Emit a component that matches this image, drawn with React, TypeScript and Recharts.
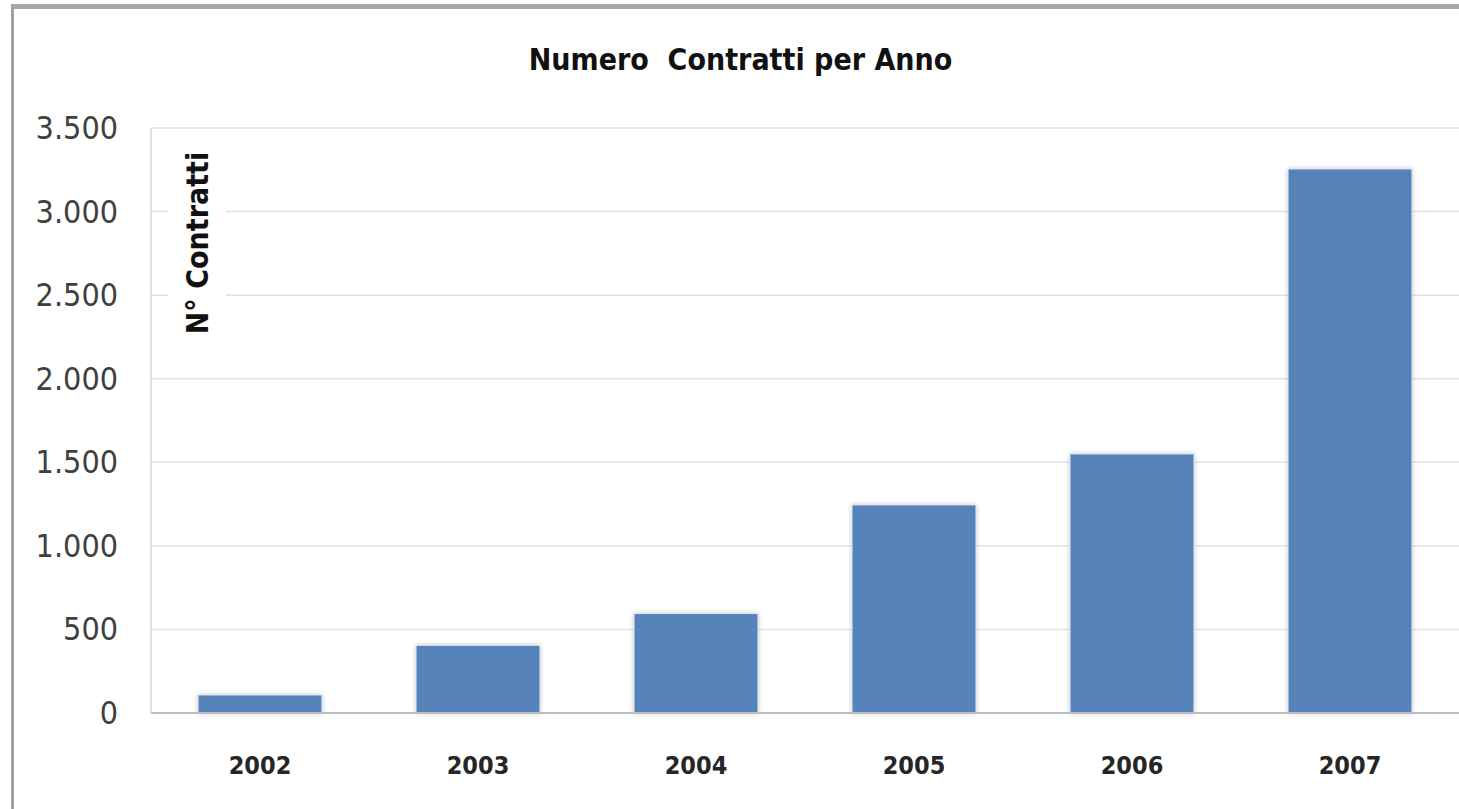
import React from 'react'
import { BarChart, Bar, XAxis, YAxis, CartesianGrid } from 'recharts'

const YEARS = ['2002', '2003', '2004', '2005', '2006', '2007']
const CONTRACTS = [108, 405, 595, 1245, 1550, 3255]
const Y_TICKS = [0, 500, 1000, 1500, 2000, 2500, 3000, 3500]
const TITLE = 'Numero  Contratti per Anno'
const Y_LABEL = 'N°  Contratti'

const BAR_BLUE = '#5683B9'
const GRID_GRAY = '#e2e2e2'
const COND = '"DejaVu Sans Condensed", "DejaVu Sans", sans-serif'

const data = YEARS.map((year, i) => ({ year, value: CONTRACTS[i] }))

const fmt = (v: number) => String(v).replace(/\B(?=(\d{3})+(?!\d))/g, '.')

function YTick(props: any) {
    const { y, payload } = props
    return (
        <text x={118} y={y} textAnchor="end" dominantBaseline="central"
            fontFamily={COND} fontSize={32} fill="#404040">
            {fmt(payload.value)}
        </text>
    )
}

function XTick(props: any) {
    const { x, y, payload } = props
    return (
        <text x={x} y={y + 44} textAnchor="middle" dominantBaseline="central"
            fontFamily={COND} fontWeight="bold" fontSize={25} fill="#262626">
            {payload.value}
        </text>
    )
}

function YLabel(props: any) {
    const { viewBox } = props
    const cx = viewBox.x + viewBox.width + 46
    const cy = viewBox.y + 115
    return (
        <g>
            <rect x={cx - 29} y={cy - 102} width={58} height={204} fill="#ffffff" />
            <text x={cx} y={cy} transform={`rotate(-90 ${cx} ${cy})`} textAnchor="middle"
                dominantBaseline="central" fontFamily={COND} fontWeight="bold" fontSize={30} fill="#111">
                {Y_LABEL}
            </text>
        </g>
    )
}

export default function App() {
    return (
        <div style={{ position: 'absolute', left: 0, top: 0, width: 1459, height: 809, background: '#fff', overflow: 'hidden' }}>
            <style>{`.recharts-bar-rectangle path { filter: drop-shadow(0 0 2px rgba(0,0,0,0.22)); }`}</style>
            <div style={{
                position: 'absolute', left: 11, top: 4, width: 1448, height: 805,
                borderTop: '5px solid #a8a8a8', borderLeft: '3px solid #a0a0a0', boxSizing: 'border-box'
            }} />
            <div style={{
                position: 'absolute', left: 22, width: 1437, top: 42, textAlign: 'center',
                fontFamily: COND, fontWeight: 'bold', fontSize: 30, color: '#111', whiteSpace: 'pre'
            }}>
                {TITLE}
            </div>
            <div style={{ position: 'absolute', left: 0, top: 0 }}>
                <BarChart width={1459} height={809} data={data} barSize={124}
                    margin={{ top: 128, right: 0, bottom: 0, left: 0 }}>
                    <CartesianGrid vertical={false} stroke={GRID_GRAY} strokeWidth={1.5} />
                    <XAxis dataKey="year" height={96} tickLine={false}
                        axisLine={{ stroke: '#bdbdbd', strokeWidth: 2 }} tick={<XTick />} />
                    <YAxis width={151} domain={[0, 3500]} ticks={Y_TICKS} tickLine={false}
                        axisLine={{ stroke: '#d6d6d6', strokeWidth: 1.5 }} tick={<YTick />}
                        label={<YLabel />} />
                    <Bar dataKey="value" fill={BAR_BLUE} stroke="#e4ecf5" strokeWidth={1}
                        isAnimationActive={false} />
                </BarChart>
            </div>
        </div>
    )
}
